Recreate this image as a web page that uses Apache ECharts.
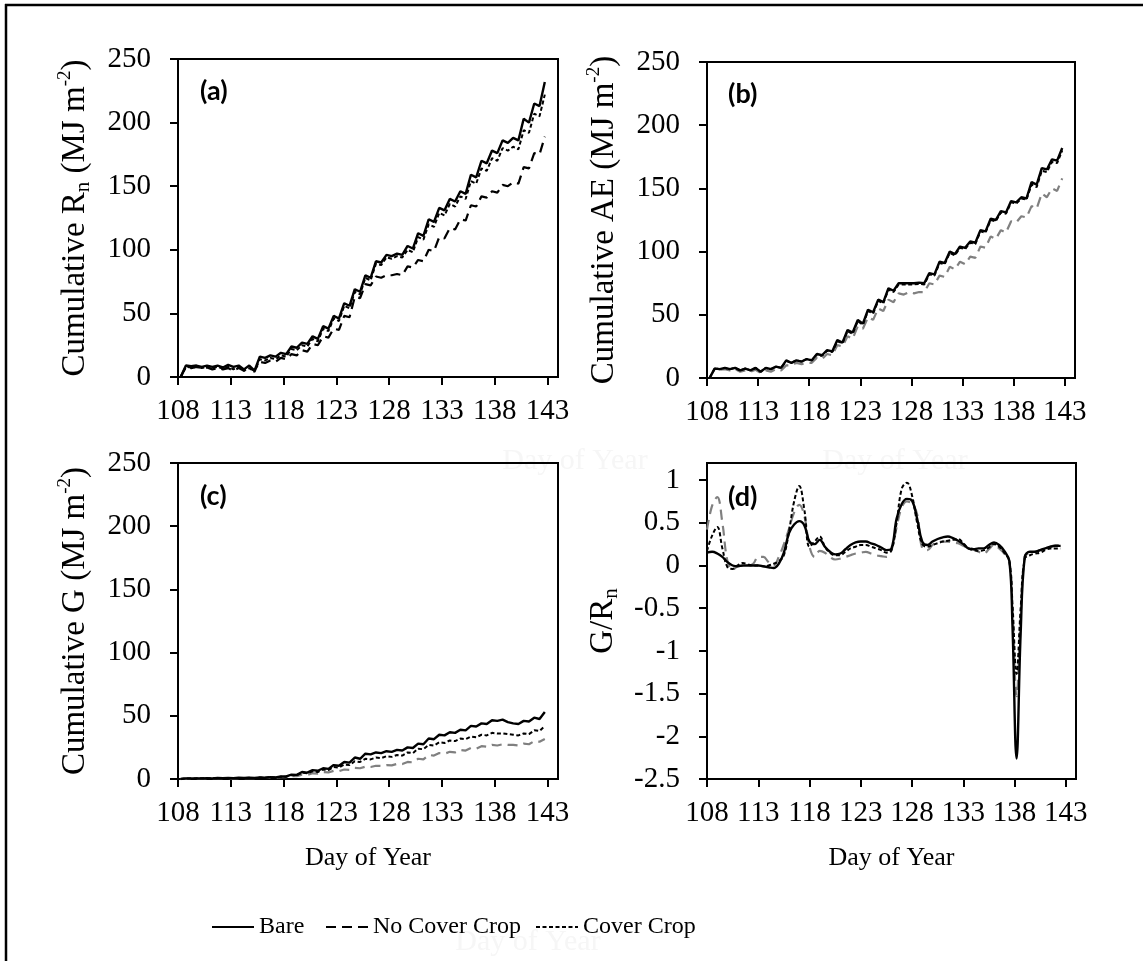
<!DOCTYPE html>
<html>
<head>
<meta charset="utf-8">
<script src="https://cdn.jsdelivr.net/npm/echarts@6/dist/echarts.min.js"></script>
<style>
html,body{margin:0;padding:0;background:#fff;}
#chart{width:1143px;height:961px;}
</style>
</head>
<body>
<div id="chart"></div>
<script>
// ---------- data ----------
// x ticks (Day of Year)
const dayTicks = [108, 113, 118, 123, 128, 133, 138, 143];
const cumTicks = [0, 50, 100, 150, 200, 250];
const ratioTicks = [-2.5, -2, -1.5, -1, -0.5, 0, 0.5, 1];
const seriesNames = ['Bare', 'No Cover Crop', 'Cover Crop'];

// cumulative series: two readings per day (morning, evening) for days 108..142
const firstDay = 108, lastDay = 142;

// (a) Cumulative Rn
const aBare = [0,9, 8.5,9, 8,9, 8,9, 7.5,9.5, 8,9, 6,9, 5,16, 15,17, 16,19, 18,24, 23,27, 26,32, 30,40, 38,48, 46,58, 56,69, 67,80, 78,91, 90,96, 95,97, 96,103, 101,113, 111,124, 122,133, 131,140, 138,146, 144,159, 157,170, 168,178, 176,186, 184,188, 186,203, 200,215, 213,232];
const aNoCover = [0,8, 7,8, 7,7.5, 6,7, 6,7, 5,7, 5,7, 5,12, 11,13, 12,15, 14,18, 17,21, 20,26, 25,32, 31,38, 37,48, 47,63, 62,73, 72,79, 78,80, 80,81, 80,87, 86,92, 91,100, 99,110, 109,117, 116,124, 123,135, 134,142, 141,146, 145,151, 150,153, 152,165, 164,176, 175,189];
const aCover = [0,8, 7.5,8, 7,8, 7,8, 6.5,8, 6,8, 5,7, 4,14, 13,15, 14,17, 16,22, 21,25, 24,30, 28,38, 36,46, 44,56, 54,67, 65,78, 76,89, 88,94, 93,95, 94,100, 98,110, 108,120, 118,129, 127,136, 134,142, 140,154, 152,164, 162,172, 170,180, 178,181, 179,194, 192,207, 205,222];

// (b) Cumulative AE
const bBare = [0,7.5, 7,8, 7,8, 6,7.5, 6,8, 5,8, 7,9, 8,14, 12,14, 13,15, 14,19, 18,22, 21,30, 28,38, 36,46, 43,54, 52,62, 60,71, 69,75, 75,75, 75,75.5, 75,83, 82,92, 91,100, 98,104, 103,108, 107,117, 116,126, 125,132, 131,140, 139,143, 142,155, 153,166, 165,173, 172,182];
const bNoCover = [0,7, 6.5,7, 6,7, 5,6, 5,6.5, 4,6, 5,7, 6,10, 10,12, 11,12, 12,16, 15,19, 18,26, 25,33, 31,41, 39,48, 46,55, 53,62, 60,67, 66,68, 67,68, 68,75, 74,81, 80,88, 86,92, 90,96, 95,104, 103,112, 110,117, 115,124, 123,128, 127,136, 134,146, 143,150, 148,158];
const bCover = [0,7.5, 7,8, 7,8, 6,7.5, 6,8, 5,8, 7,9, 8,13.5, 12,14, 13,15, 14,18.5, 17.5,21.5, 20.5,29, 27.5,37, 35,45, 42,53, 51,61, 59,70, 68,74, 74,74, 74,74.5, 74,82, 81,91, 90,99, 97,103, 102,107, 106,116, 115,125, 124,131, 130,139, 138,142, 141,153, 151,164, 163,171, 170,180];

// (c) Cumulative G
const cBare = [0,0.5, 0.5,0.5, 0.5,0.6, 0.5,0.8, 0.6,0.8, 0.7,1, 0.8,1, 0.8,1.2, 1,1.5, 1.3,2, 2,3.5, 3.3,5.5, 5,7, 6.5,8.5, 8,11, 10.5,13.5, 13,17, 16,20, 19.5,21, 20.5,22, 21.5,23, 22.5,25, 24.5,28, 27.5,32, 31.5,35, 34.5,37, 36.5,39, 38.5,42, 41.5,44, 43.5,46.5, 46,47, 45,44, 43.5,46, 45.5,48.5, 47.5,53];
const cNoCover = [0,0.3, 0.3,0.4, 0.4,0.4, 0.4,0.5, 0.5,0.6, 0.5,0.7, 0.6,0.7, 0.7,0.9, 0.8,1.1, 1,1.4, 1.4,2.3, 2.2,3.4, 3.3,4.5, 4.3,5.5, 5.2,6.5, 6.2,7.5, 7.2,8.8, 8.5,9.8, 9.5,10.5, 10.3,11, 10.8,12, 11.8,13.5, 13.2,16, 15.5,19, 18.5,20.5, 20,21.5, 21,23, 22.5,24.5, 24,26, 25.5,27, 26.5,27.5, 27,27, 26.5,28, 27.5,30, 29.5,31.7];
const cCover = [0,0.4, 0.4,0.5, 0.5,0.5, 0.5,0.7, 0.6,0.7, 0.6,0.9, 0.7,0.9, 0.8,1.1, 1,1.4, 1.2,1.8, 1.8,3, 3,5, 4.5,6, 5.5,7.5, 7,9.5, 9,11.5, 11,14, 13.5,16, 15.5,17, 16.5,18, 17.5,19, 18.5,21, 20.5,24, 23.5,27, 26.5,29, 28.5,30.5, 30,32, 31.5,33.5, 33,35, 34.5,36.5, 36,36, 35.5,35, 34.5,36, 35.5,38.5, 38,42];

// (d) G/Rn
const dDays = [108,108.5,109,109.5,110,110.5,111,111.5,112,112.5,113,113.5,114,114.5,115,115.5,116,116.5,117,117.5,118,118.5,119,119.5,120,120.5,121,121.5,122,122.5,123,123.5,124,124.5,125,125.5,126,126.5,127,127.5,128,128.5,129,129.5,130,130.5,131,131.5,132,132.5,133,133.5,134,134.5,135,135.5,136,136.5,137,137.5,137.8,138.2,138.6,139,139.5,140,140.5,141,141.5,142,142.5];
const dBare = [0.15,0.16,0.14,0.1,0.04,0,-0.01,0,0,0,0,-0.01,-0.02,-0.03,0.02,0.15,0.38,0.48,0.52,0.47,0.28,0.25,0.3,0.22,0.16,0.13,0.14,0.19,0.24,0.27,0.28,0.28,0.26,0.24,0.21,0.18,0.2,0.55,0.72,0.78,0.76,0.55,0.28,0.24,0.28,0.31,0.33,0.34,0.32,0.29,0.25,0.2,0.19,0.2,0.2,0.24,0.27,0.24,0.17,0.05,-0.7,-2.26,-0.8,0.1,0.16,0.16,0.18,0.2,0.22,0.23,0.23];
const dNoCover = [0.42,0.7,0.8,0.5,0.05,-0.05,-0.01,0,0,0.02,0.1,0.1,0.04,0,0.1,0.25,0.43,0.62,0.71,0.58,0.22,0.1,0.17,0.15,0.1,0.07,0.08,0.1,0.12,0.14,0.15,0.16,0.14,0.12,0.11,0.1,0.18,0.45,0.68,0.75,0.72,0.6,0.2,0.18,0.24,0.27,0.28,0.28,0.27,0.26,0.23,0.21,0.19,0.16,0.14,0.19,0.24,0.2,0.14,0.05,-0.5,-1.53,-0.6,0.1,0.15,0.16,0.18,0.2,0.22,0.24,0.24];
const dCover = [0.17,0.35,0.45,0.2,-0.02,-0.04,0,0.03,0.01,0,0,-0.01,0,0.02,0.05,0.12,0.4,0.75,0.93,0.65,0.22,0.28,0.34,0.22,0.15,0.12,0.12,0.16,0.2,0.22,0.24,0.24,0.22,0.2,0.18,0.15,0.18,0.5,0.9,0.97,0.82,0.5,0.25,0.22,0.24,0.26,0.28,0.29,0.3,0.31,0.26,0.2,0.18,0.17,0.18,0.21,0.25,0.22,0.15,0.05,-0.45,-1.27,-0.5,0.08,0.12,0.14,0.15,0.18,0.2,0.2,0.2];

// ---------- build ----------
const cumDays = [];
for (let d = firstDay; d <= lastDay; d++) { cumDays.push(d + 0.25, d + 0.75); }
const pairs = (xs, ys) => ys.map((v, i) => [xs[i], v]);

const FONT = 'Liberation Serif';
const BLACK = '#000';
const GRAY = '#808080';
const styles = {
  solid: { type: 'solid', width: 2.4 },
  long: { type: [10, 6], width: 2.2 },
  short: { type: [4, 2.5], width: 2 }
};

function line(name, xs, ys, idx, color, st, smooth, z) {
  return {
    name: name, type: 'line', xAxisIndex: idx, yAxisIndex: idx,
    data: pairs(xs, ys), symbol: 'none', showSymbol: false, smooth: smooth || false,
    lineStyle: Object.assign({ color: color, cap: 'butt' }, st),
    itemStyle: { color: color },
    z: z || 2, animation: false
  };
}

const grids = [
  { left: 178, top: 59, width: 380, height: 318 },
  { left: 707, top: 62, width: 368, height: 316 },
  { left: 178, top: 463, width: 380, height: 316 },
  { left: 707, top: 463, width: 369, height: 316 }
].map(g => Object.assign(g, { show: true, borderColor: BLACK, borderWidth: 2, backgroundColor: 'transparent', containLabel: false }));

const axisLbl = { color: BLACK, fontFamily: FONT, fontSize: 29 };

const xAxes = grids.map((g, i) => ({
  type: 'value', gridIndex: i, min: 108, max: 144,
  axisLine: { show: true, onZero: false, lineStyle: { color: BLACK, width: 2 } },
  axisTick: { show: true, inside: false, length: 8, customValues: dayTicks, lineStyle: { color: BLACK, width: 2 } },
  axisLabel: Object.assign({ margin: 20, customValues: dayTicks, showMinLabel: true, showMaxLabel: true }, axisLbl),
  splitLine: { show: false },
  name: (i >= 2) ? 'Day of Year' : '',
  nameLocation: 'middle', nameGap: 66,
  nameTextStyle: { color: BLACK, fontFamily: FONT, fontSize: 26 }
}));

const richUnits = {
  sub: { fontFamily: FONT, fontSize: 21, verticalAlign: 'bottom', lineHeight: 22, color: BLACK },
  sup: { fontFamily: FONT, fontSize: 19, verticalAlign: 'top', lineHeight: 18, color: BLACK }
};
const yNames = [
  'Cumulative R{sub|n} (MJ m{sup|-2})',
  'Cumulative AE (MJ m{sup|-2})',
  'Cumulative G (MJ m{sup|-2})',
  'G/R{sub|n}'
];

const yAxes = grids.map((g, i) => {
  const isRatio = i === 3;
  const ticks = isRatio ? ratioTicks : cumTicks;
  return {
    type: 'value', gridIndex: i,
    min: isRatio ? -2.5 : 0, max: isRatio ? 1.2 : 250,
    axisLine: { show: true, onZero: false, lineStyle: { color: BLACK, width: 2 } },
    axisTick: { show: true, inside: false, length: 8, customValues: ticks, lineStyle: { color: BLACK, width: 2 } },
    axisLabel: Object.assign({ margin: 27, customValues: ticks, showMinLabel: true, showMaxLabel: true }, axisLbl),
    splitLine: { show: false },
    name: yNames[i], nameLocation: 'middle', nameRotate: 90, nameGap: isRatio ? 85 : 84,
    nameTextStyle: { color: BLACK, fontFamily: FONT, fontSize: 33, lineHeight: 38, rich: richUnits }
  };
});

const series = [
  line('Bare', cumDays, aBare, 0, BLACK, styles.solid, false, 4),
  line('No Cover Crop', cumDays, aNoCover, 0, BLACK, styles.long, false, 3),
  line('Cover Crop', cumDays, aCover, 0, BLACK, styles.short, false, 3),
  line('No Cover Crop', cumDays, bNoCover, 1, GRAY, styles.long, false, 2),
  line('Cover Crop', cumDays, bCover, 1, BLACK, styles.short, false, 3),
  line('Bare', cumDays, bBare, 1, BLACK, styles.solid, false, 4),
  line('No Cover Crop', cumDays, cNoCover, 2, GRAY, styles.long, false, 2),
  line('Cover Crop', cumDays, cCover, 2, BLACK, styles.short, false, 3),
  line('Bare', cumDays, cBare, 2, BLACK, styles.solid, false, 4),
  line('No Cover Crop', dDays, dNoCover, 3, GRAY, styles.long, 0.4, 2),
  line('Cover Crop', dDays, dCover, 3, BLACK, styles.short, 0.4, 3),
  line('Bare', dDays, dBare, 3, BLACK, styles.solid, 0.4, 4)
];

const legendBase = {
  orient: 'horizontal', top: 915, padding: 0, itemGap: 0,
  itemWidth: 42, itemHeight: 14, selectedMode: false,
  itemStyle: { opacity: 0 },
  textStyle: { color: BLACK, fontFamily: FONT, fontSize: 24 }
};
const legends = [
  Object.assign({ data: ['Bare'], left: 211 }, legendBase),
  Object.assign({ data: ['No Cover Crop'], left: 325 }, legendBase),
  Object.assign({ data: ['Cover Crop'], left: 535 }, legendBase)
];

const panelLabels = [['(a)', 200, 91], ['(b)', 728, 94], ['(c)', 200, 496], ['(d)', 728, 497]];
const ghost = [['Day of Year', 575, 461], ['Day of Year', 895, 461], ['Day of Year', 528, 942]];

const graphic = [
  { type: 'line', shape: { x1: 6, y1: 4, x2: 6, y2: 961 }, style: { stroke: BLACK, lineWidth: 2.5 }, z: 10 },
  { type: 'line', shape: { x1: 5, y1: 5, x2: 1143, y2: 5 }, style: { stroke: BLACK, lineWidth: 2.5 }, z: 10 }
].concat(ghost.map(g => ({
  type: 'text', x: g[1], y: g[2], z: -1,
  style: { text: g[0], fill: '#f6f6f6', font: '30px "Liberation Serif"', textAlign: 'center', textVerticalAlign: 'middle' }
}))).concat(panelLabels.map(p => ({
  type: 'text', x: p[1], y: p[2], z: 10,
  style: { text: p[0], fill: BLACK, font: 'bold 27px Lato', textAlign: 'left', textVerticalAlign: 'middle' }
})));

const chart = echarts.init(document.getElementById('chart'), null, { renderer: 'canvas' });
chart.setOption({
  animation: false,
  backgroundColor: '#fff',
  grid: grids,
  xAxis: xAxes,
  yAxis: yAxes,
  legend: legends,
  series: series,
  graphic: graphic
});
</script>
</body>
</html>
